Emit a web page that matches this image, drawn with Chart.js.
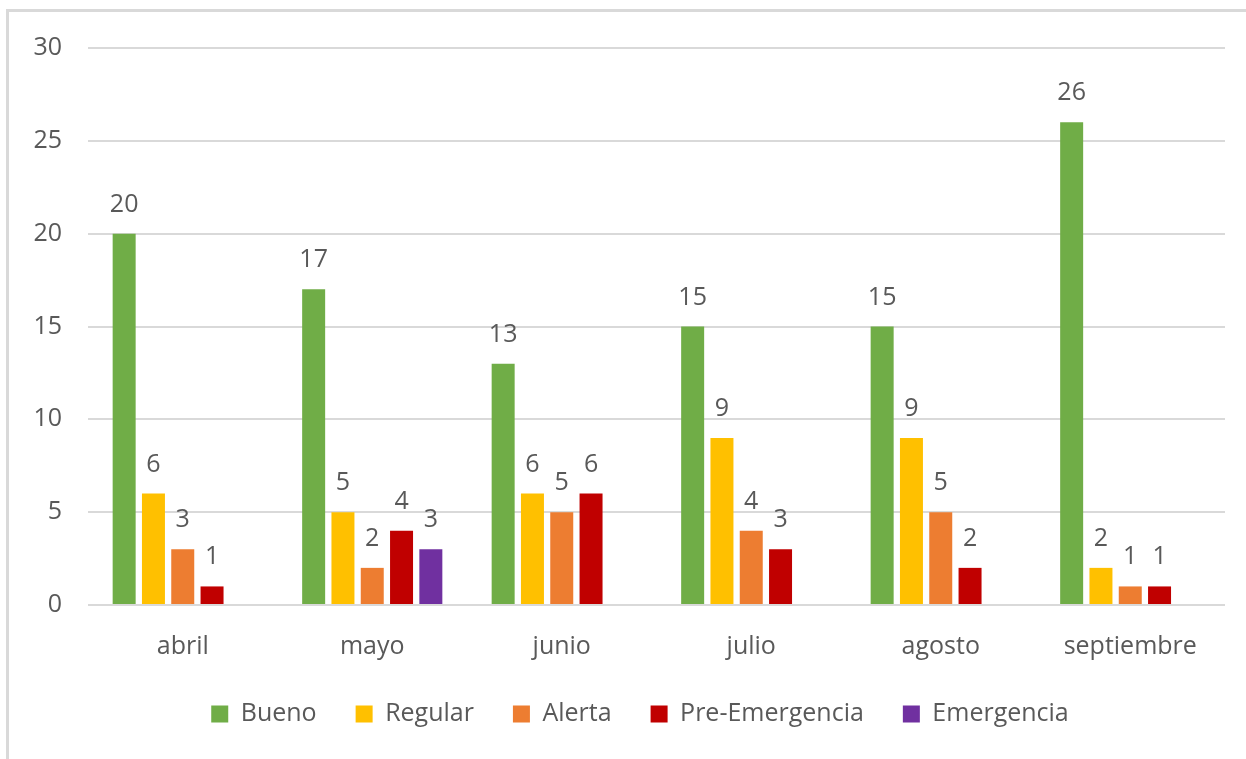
<!DOCTYPE html>
<html>
<head>
<meta charset="utf-8">
<script src="https://cdn.jsdelivr.net/npm/chart.js@4.4.1/dist/chart.umd.min.js"></script>
<style>
  html, body { margin: 0; padding: 0; background: #ffffff; }
  #wrap { position: relative; width: 1246px; height: 759px; overflow: hidden; }
  #frame { position: absolute; left: 6px; top: 9px; width: 1400px; height: 900px;
           border-top: 3px solid #d9d9d9; border-left: 3px solid #d9d9d9; }
  #box { position: absolute; left: 0; top: 0; width: 1246px; height: 759px; }
</style>
</head>
<body>
<div id="wrap">
  <div id="frame"></div>
  <div id="box"><canvas id="c"></canvas></div>
</div>
<script>
const categories = ['abril', 'mayo', 'junio', 'julio', 'agosto', 'septiembre'];
const bueno = [20, 17, 13, 15, 15, 26];
const regular = [6, 5, 6, 9, 9, 2];
const alerta = [3, 2, 5, 4, 5, 1];
const preEmergencia = [1, 4, 6, 3, 2, 1];
const emergencia = [null, 3, null, null, null, null];
const yTicks = [0, 5, 10, 15, 20, 25, 30];

const seriesNames = ['Bueno', 'Regular', 'Alerta', 'Pre-Emergencia', 'Emergencia'];
const seriesColors = ['#70AD47', '#FFC000', '#ED7D31', '#C00000', '#7030A0'];
const seriesValues = [bueno, regular, alerta, preEmergencia, emergencia];

const FONT = "'Open Sans', sans-serif";
const TEXT = '#595959';

const valueLabels = {
  id: 'valueLabels',
  afterDatasetsDraw(chart) {
    const ctx = chart.ctx;
    ctx.save();
    ctx.font = "25px " + FONT;
    ctx.fillStyle = TEXT;
    ctx.textAlign = 'center';
    ctx.textBaseline = 'alphabetic';
    chart.data.datasets.forEach((ds, i) => {
      const meta = chart.getDatasetMeta(i);
      meta.data.forEach((el, j) => {
        const v = ds.data[j];
        if (v === null || v === undefined) return;
        ctx.fillText(String(v), el.x, el.y - 22);
      });
    });
    ctx.restore();
  }
};

const legendShift = {
  id: 'legendShift',
  afterLayout(chart) {
    if (chart.legend) { chart.legend.left += 55; }
  }
};

new Chart(document.getElementById('c'), {
  type: 'bar',
  data: {
    labels: categories,
    datasets: seriesNames.map((n, i) => ({
      label: n,
      data: seriesValues[i],
      backgroundColor: seriesColors[i],
      borderWidth: 0,
      categoryPercentage: 0.773,
      barPercentage: 0.785
    }))
  },
  options: {
    responsive: true,
    maintainAspectRatio: false,
    animation: false,
    layout: { padding: { left: 0, right: 21, top: 48, bottom: 22.5 } },
    plugins: {
      tooltip: { enabled: false },
      legend: {
        position: 'bottom',
        labels: {
          font: { family: FONT, size: 25 },
          color: TEXT,
          boxWidth: 17,
          boxHeight: 17,
          padding: 39
        }
      }
    },
    scales: {
      x: {
        grid: { display: false, drawTicks: false },
        border: { display: false },
        ticks: { color: TEXT, font: { family: FONT, size: 25 }, padding: 27, maxRotation: 0 },
        afterFit(scale) { scale.height = 57.5; }
      },
      y: {
        min: 0, max: 30,
        afterBuildTicks(scale) { scale.ticks = yTicks.map(v => ({ value: v })); },
        grid: { color: '#d9d9d9', lineWidth: 2, drawTicks: false },
        border: { display: false },
        ticks: { color: TEXT, font: { family: FONT, size: 25 }, padding: 26 },
        afterFit(scale) { scale.width = 88; }
      }
    }
  },
  plugins: [valueLabels, legendShift]
});
</script>
</body>
</html>
